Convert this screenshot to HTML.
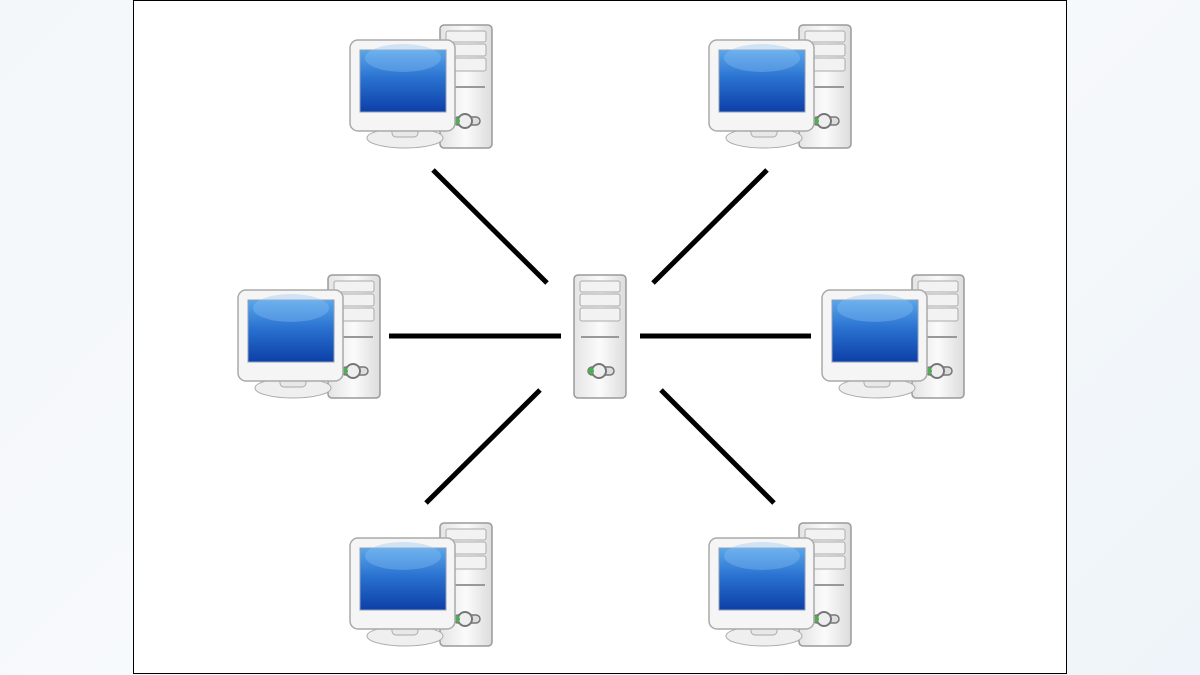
<!DOCTYPE html>
<html><head><style>
html,body{margin:0;padding:0;width:1200px;height:675px;overflow:hidden;background:linear-gradient(135deg,#f3f7fa,#f8fafc 50%,#eef4f9);}
svg{position:absolute;left:0;top:0}
</style></head><body>
<svg width="1200" height="675" viewBox="0 0 1200 675">
<defs>
<linearGradient id="scr" x1="0" y1="0" x2="0" y2="1">
<stop offset="0" stop-color="#5aa6ea"/><stop offset="0.45" stop-color="#2a72d0"/><stop offset="1" stop-color="#0d3fa8"/></linearGradient>
<linearGradient id="case" x1="0" y1="0" x2="1" y2="0">
<stop offset="0" stop-color="#e4e4e4"/><stop offset="0.5" stop-color="#fbfbfb"/><stop offset="1" stop-color="#dcdcdc"/></linearGradient>
<g id="tower">
<rect x="0" y="0" width="52" height="123" rx="4" fill="url(#case)" stroke="#9a9a9a" stroke-width="1.5"/>
<rect x="6" y="6" width="40" height="11" rx="2" fill="#f2f2f2" stroke="#aaa"/>
<rect x="6" y="19" width="40" height="12" rx="2" fill="#f2f2f2" stroke="#aaa"/>
<rect x="6" y="33" width="40" height="13" rx="2" fill="#f2f2f2" stroke="#aaa"/>
<line x1="7" y1="62" x2="45" y2="62" stroke="#999" stroke-width="2"/>
<rect x="14" y="92" width="26" height="8" rx="4" fill="#ddd" stroke="#777" stroke-width="1.5"/>
<circle cx="25" cy="96" r="7" fill="#eee" stroke="#777" stroke-width="2"/>
<circle cx="17" cy="96" r="3" fill="#4caf50"/>
</g>
<g id="pc">
<use href="#tower" x="92" y="0"/>
<ellipse cx="57" cy="113" rx="38" ry="10" fill="#efefef" stroke="#aaa"/>
<rect x="44" y="98" width="26" height="14" rx="4" fill="#e8e8e8" stroke="#aaa"/>
<rect x="2" y="15" width="105" height="91" rx="8" fill="#f5f5f5" stroke="#aaa" stroke-width="1.5"/>
<rect x="12" y="25" width="86" height="62" fill="url(#scr)" stroke="#8fa0b8"/>
<ellipse cx="55" cy="33" rx="38" ry="14" fill="#8cc4f5" opacity="0.35"/>
</g>
</defs>
<rect x="133.5" y="0.5" width="933" height="673" fill="#fff" stroke="#000" stroke-width="1"/>
<g stroke="#000" stroke-width="5">
<line x1="433" y1="170" x2="547" y2="283"/>
<line x1="767" y1="170" x2="653" y2="283"/>
<line x1="389" y1="336" x2="561" y2="336"/>
<line x1="640" y1="336" x2="811" y2="336"/>
<line x1="540" y1="390" x2="426" y2="503"/>
<line x1="661" y1="390" x2="774" y2="503"/>
</g>
<use href="#pc" x="348" y="25"/>
<use href="#pc" x="707" y="25"/>
<use href="#pc" x="236" y="275"/>
<use href="#pc" x="820" y="275"/>
<use href="#pc" x="348" y="523"/>
<use href="#pc" x="707" y="523"/>
<use href="#tower" x="574" y="275"/>
</svg>
</body></html>
